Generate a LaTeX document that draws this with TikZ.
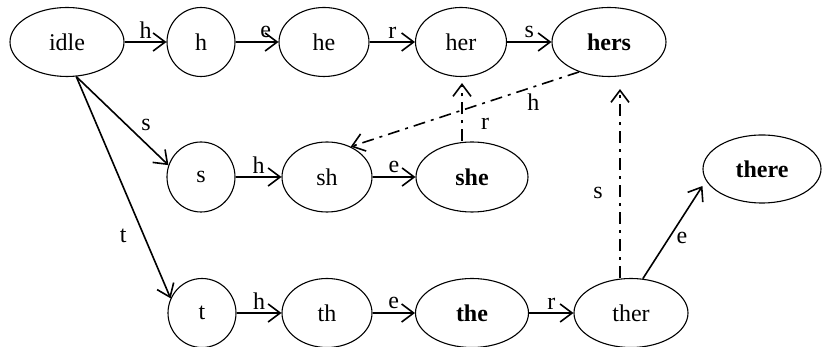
\documentclass[tikz,border=0pt]{standalone}
\usepackage{fontspec}
\setmainfont{Liberation Serif}
\usetikzlibrary{shapes.geometric,arrows.meta}

\tikzset{
  statenode/.style={draw, ellipse, line width=1.1pt, inner sep=0pt, minimum height=69pt},
  accnode/.style={statenode, font=\fontsize{24}{28}\selectfont\bfseries},
  goto/.style={line width=1.6pt, -{Straight Barb[length=12pt,width=18pt,line width=1.6pt]}},
  failto/.style={goto, dash pattern=on 12pt off 6pt on 3pt off 6pt},
  lbl/.style={inner sep=3pt}
}

\begin{document}
\begin{tikzpicture}[x=1pt, y=1pt, font=\fontsize{24}{28}\selectfont]
   \useasboundingbox (0,0) rectangle (831,347);

   % top row
   \node[statenode, minimum width=114pt] (idle) at (67,305) {idle};
   \node[statenode, minimum width=68pt] (h) at (201,305) {h};
   \node[statenode, minimum width=90pt] (he) at (324,305) {he};
   \node[statenode, minimum width=91pt] (her) at (461,305) {her};
   \node[accnode, minimum width=114pt] (hers) at (609,305) {hers};

   % middle row
   \node[statenode, minimum width=68pt, minimum height=70pt] (s) at (201,170) {s};
   \node[statenode, minimum width=90pt, minimum height=70pt] (sh) at (327,170) {sh};
   \node[accnode, minimum width=112pt, minimum height=70pt] (she) at (472,170) {she};
   \node[accnode, minimum width=118pt, minimum height=68pt] (there) at (762,178) {there};

   % bottom row
   \node[statenode, minimum width=68pt] (t) at (202,34) {t};
   \node[statenode, minimum width=90pt] (th) at (327,34) {th};
   \node[accnode, minimum width=113pt] (the) at (472,34) {the};
   \node[statenode, minimum width=114pt] (ther) at (631,34) {ther};

   % goto edges
   \draw[goto] (idle) -- node[lbl, midway, above] {h} (h);
   \draw[goto] (h) -- node[lbl, pos=0.7, above] {e} (he);
   \draw[goto] (he) -- node[lbl, midway, above] {r} (her);
   \draw[goto] (her) -- node[lbl, midway, above] {s} (hers);
   \draw[goto] (s) -- node[lbl, midway, above] {h} (sh);
   \draw[goto] (sh) -- node[lbl, midway, above] {e} (she);
   \draw[goto] (t) -- node[lbl, midway, above] {h} (th);
   \draw[goto] (th) -- node[lbl, midway, above] {e} (the);
   \draw[goto] (the) -- node[lbl, midway, above] {r} (ther);
   \draw[goto] (idle.-75) -- node[lbl, pos=0.55, xshift=19pt] {s} (s.160);
   \draw[goto] (idle.-75) -- node[lbl, pos=0.72, xshift=-21pt] {t} (t.155);
   \draw[goto] (ther.71) -- node[lbl, pos=0.44, xshift=13pt] {e} ([yshift=-17pt]there.west);

   % failure links
   \draw[failto] ([xshift=-10pt]she.north) -- node[lbl, pos=0.3, xshift=23pt] {r} ([xshift=1pt,yshift=-6pt]her.south);
   \draw[failto] (hers.225) -- node[lbl, pos=0.2, yshift=-15pt] {h} (sh.52);
   \draw[failto] ([xshift=-11pt]ther.north) -- node[lbl, pos=0.45, xshift=-22pt] {s} ([xshift=11pt,yshift=-12pt]hers.south);
\end{tikzpicture}
\end{document}
